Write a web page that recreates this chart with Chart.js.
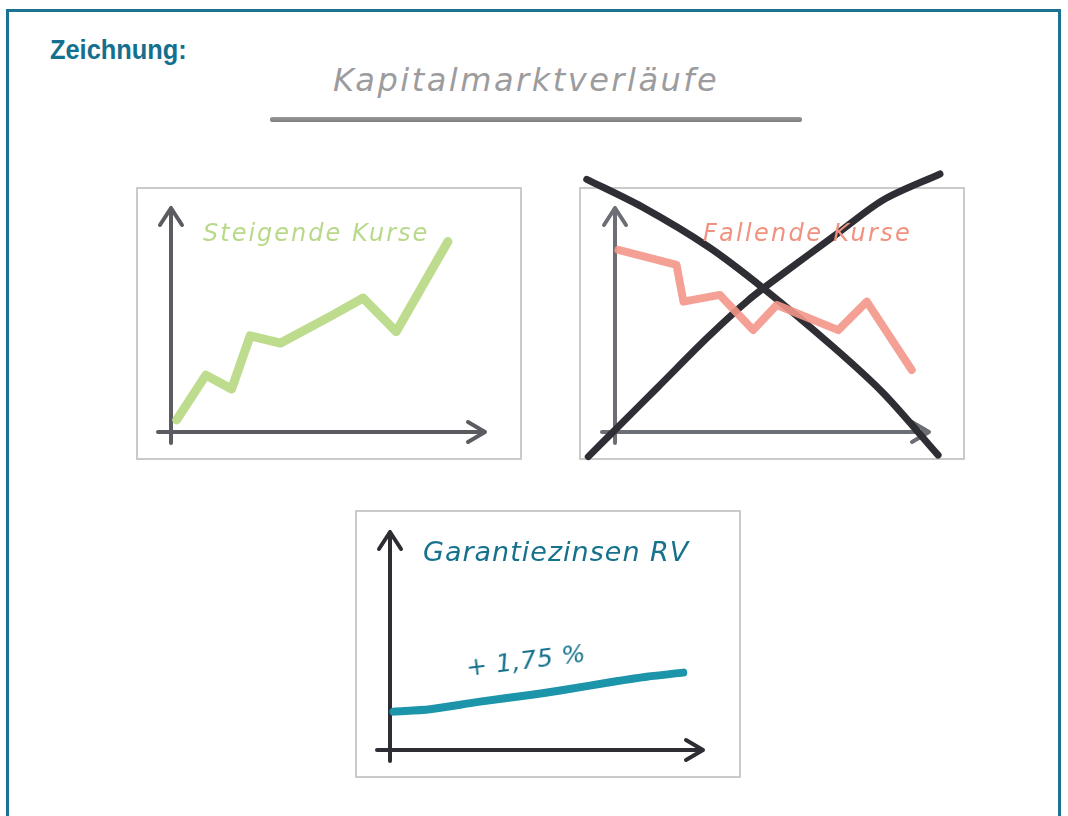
<!DOCTYPE html>
<html lang="de">
<head>
<meta charset="utf-8">
<title>Kapitalmarktverläufe</title>
<script src="https://cdn.jsdelivr.net/npm/chart.js@4"></script>
<style>
  html, body { margin: 0; padding: 0; background: #fff; }
  body { width: 1068px; height: 816px; position: relative; overflow: hidden; }
  .frame {
    position: absolute; left: 6px; top: 9px; width: 1055px; height: 900px;
    border: 3px solid #1b7291; box-sizing: border-box;
  }
  .heading {
    position: absolute; left: 50px; top: 35px;
    font: bold 27px 'Liberation Sans', sans-serif;
    color: #14708e; transform: scaleX(0.94); transform-origin: left top;
  }
  .hand { position: absolute; font-family: 'DejaVu Sans', sans-serif; font-style: oblique; font-weight: 200; white-space: nowrap; }
  .main-title { left: 333px; top: 61px; font-size: 32px; letter-spacing: 2.5px; color: #9c9c9e; }
  .underline {
    position: absolute; left: 270px; top: 117px; width: 532px; height: 5px;
    background: linear-gradient(#9a9a9c, #7e7c80); border-radius: 2px;
  }
  .box { position: absolute; border: 2px solid #cacaca; box-sizing: border-box; }
  canvas { position: absolute; }
</style>
</head>
<body>
<div class="frame"></div>
<div class="heading">Zeichnung:</div>
<div class="hand main-title">Kapitalmarktverläufe</div>
<div class="underline"></div>

<div class="box" style="left:136px;top:187px;width:386px;height:273px"></div>
<div class="box" style="left:579px;top:187px;width:386px;height:273px"></div>
<div class="box" style="left:355px;top:510px;width:386px;height:268px"></div>

<canvas id="risingChart" width="386" height="273" style="left:136px;top:187px"></canvas>
<canvas id="fallingChart" width="415" height="305" style="left:565px;top:165px"></canvas>
<canvas id="guaranteeChart" width="386" height="268" style="left:355px;top:510px"></canvas>

<div class="hand" style="left:203px;top:219px;font-size:24px;letter-spacing:2px;color:#b9d98a">Steigende Kurse</div>
<div class="hand" style="left:703px;top:219px;font-size:24px;letter-spacing:2.3px;color:#f1917f">Fallende Kurse</div>
<div class="hand" style="left:423px;top:536px;font-size:27px;letter-spacing:1px;color:#15718c">Garantiezinsen RV</div>
<div class="hand" style="left:468px;top:653px;font-size:25px;letter-spacing:0.5px;color:#15718c;transform:rotate(-7deg);transform-origin:left bottom">+ 1,75 %</div>

<script>
/* Kapitalmarktverläufe – drei Skizzen */

// Steigende Kurse (x/y in % der Achsenlänge)
const RISING_X = [1.8, 11.1, 19.3, 25.2, 34.9, 50.6, 61.2, 71.7, 88.2];
const RISING_Y = [5.4, 25.4, 19.2, 42.9, 39.7, 51.5, 59.8, 44.8, 85.0];

// Fallende Kurse
const FALLING_X = [1.1, 19.6, 21.8, 33.4, 44.0, 51.5, 71.1, 80.2, 94.5];
const FALLING_Y = [81.3, 74.6, 58.2, 61.2, 45.5, 56.7, 45.5, 58.2, 27.7];

// Durchgestrichen (X), zwei gebogene Striche
const CROSS_A_X = [-9.0, 8.5, 29.7, 47.2, 69.4, 85.4, 102.9];
const CROSS_A_Y = [112.8, 100.6, 82.7, 64.2, 38.1, 17.4, -10.3];
const CROSS_B_X = [103.5, 85.4, 69.5, 53.6, 42.5, 29.7, 13.8, 0, -8.5];
const CROSS_B_Y = [115.2, 103.6, 87.2, 70.8, 58.9, 42.5, 20.2, 0.9, -11.0];

// Garantiezinsen RV
const GUARANTEE_X = [1.1, 12.8, 28.8, 44.7, 55.4, 71.3, 82.0, 93.7];
const GUARANTEE_Y = [17.6, 18.7, 22.2, 25.2, 27.5, 31.3, 33.6, 35.5];

function toPoints(xs, ys) {
  return xs.map((x, i) => ({ x, y: ys[i] }));
}

// hand-drawn axes with arrow heads
const sketchAxes = {
  id: 'sketchAxes',
  beforeDatasetsDraw(chart, args, opts) {
    const { left, right, top, bottom } = chart.chartArea;
    const ctx = chart.ctx;
    ctx.save();
    ctx.strokeStyle = opts.color;
    ctx.lineWidth = opts.width;
    ctx.lineCap = 'round';
    ctx.lineJoin = 'round';
    ctx.beginPath();
    ctx.moveTo(left, bottom + 11);
    ctx.lineTo(left, top);
    ctx.moveTo(left - 11, top + 17);
    ctx.lineTo(left, top);
    ctx.lineTo(left + 11, top + 17);
    ctx.moveTo(left - 13, bottom);
    ctx.lineTo(right, bottom);
    ctx.moveTo(right - 17, bottom - 10);
    ctx.lineTo(right, bottom);
    ctx.lineTo(right - 17, bottom + 10);
    ctx.stroke();
    ctx.restore();
  },
};

function lineSet(data, color, width, tension = 0) {
  return {
    data,
    borderColor: color,
    borderWidth: width,
    borderCapStyle: 'round',
    borderJoinStyle: 'round',
    pointRadius: 0,
    tension,
    fill: false,
    clip: false,
  };
}

function makeChart(id, datasets, padding, axisColor) {
  return new Chart(document.getElementById(id), {
    type: 'line',
    data: { datasets },
    options: {
      responsive: false,
      animation: false,
      devicePixelRatio: 1,
      layout: { padding },
      scales: {
        x: { type: 'linear', min: 0, max: 100, display: false },
        y: { type: 'linear', min: 0, max: 100, display: false },
      },
      plugins: {
        legend: { display: false },
        tooltip: { enabled: false },
        sketchAxes: { color: axisColor, width: 4 },
      },
    },
    plugins: [sketchAxes],
  });
}

makeChart('risingChart',
  [lineSet(toPoints(RISING_X, RISING_Y), '#bddc8e', 9)],
  { left: 35, right: 37, top: 21, bottom: 28 }, '#5b5b61');

makeChart('fallingChart',
  [
    lineSet(toPoints(FALLING_X, FALLING_Y), 'rgba(243,150,138,0.9)', 8),
    lineSet(toPoints(CROSS_A_X, CROSS_A_Y), '#2f2e34', 7, 0.3),
    lineSet(toPoints(CROSS_B_X, CROSS_B_Y), '#2f2e34', 7, 0.3),
  ],
  { left: 50, right: 51, top: 43, bottom: 38 }, '#6b6e75');

makeChart('guaranteeChart',
  [lineSet(toPoints(GUARANTEE_X, GUARANTEE_Y), '#1c94aa', 8, 0.3)],
  { left: 35, right: 38, top: 22, bottom: 28 }, '#2e2d33');
</script>
</body>
</html>
